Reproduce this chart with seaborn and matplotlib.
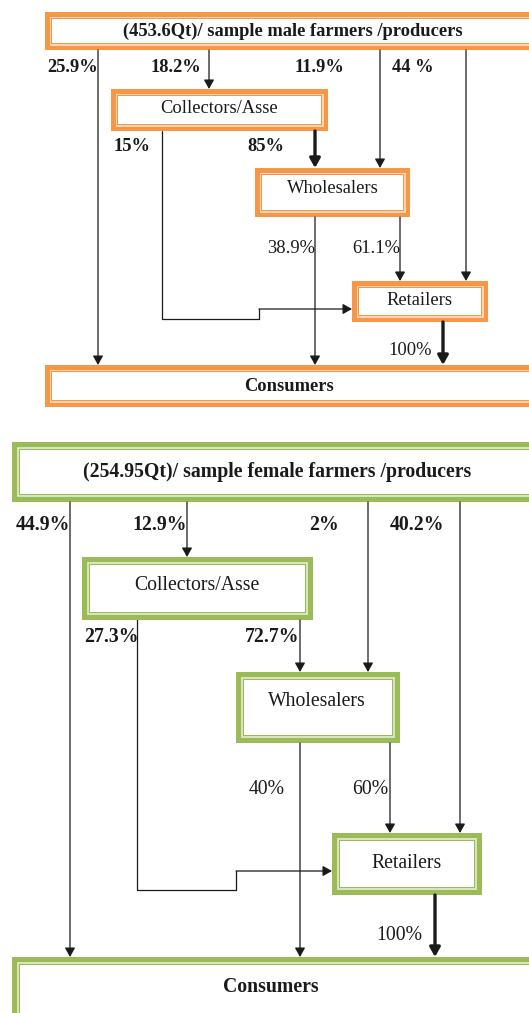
import matplotlib
matplotlib.use("Agg")
import matplotlib.pyplot as plt
from matplotlib.patches import Rectangle
import seaborn as sns

# ---- data: shares of the volume moving along each channel (%) ----
male_total = "453.6Qt"
female_total = "254.95Qt"

male_producer_labels = ["25.9%", "18.2%", "11.9%", "44 %"]     # -> consumers, collectors, wholesalers, retailers
male_collector_labels = ["15%", "85%"]                        # -> retailers, wholesalers
male_wholesaler_labels = ["38.9%", "61.1%"]                   # -> consumers, retailers
male_retailer_labels = ["100%"]                               # -> consumers

female_producer_labels = ["44.9%", "12.9%", "2%", "40.2%"]
female_collector_labels = ["27.3%", "72.7%"]
female_wholesaler_labels = ["40%", "60%"]
female_retailer_labels = ["100%"]

node_names = ["Collectors/Asse", "Wholesalers", "Retailers", "Consumers"]

sns.set_theme(style="white")
plt.rcParams["font.family"] = ["Liberation Serif", "DejaVu Serif"]

INK = "#1a1a1a"


def draw_box(ax, x0, y0, x1, y1, color, light, band, inset):
    ax.add_patch(Rectangle((x0, y0), x1 - x0, y1 - y0, fc=color, ec="none"))
    ax.add_patch(Rectangle((x0 + band, y0 + band), x1 - x0 - 2 * band, y1 - y0 - 2 * band, fc=light, ec="none"))
    ax.add_patch(Rectangle((x0 + inset, y0 + inset), x1 - x0 - 2 * inset, y1 - y0 - 2 * inset, fc=color, ec="none"))
    i2 = inset + 1.2
    ax.add_patch(Rectangle((x0 + i2, y0 + i2), x1 - x0 - 2 * i2, y1 - y0 - 2 * i2, fc="white", ec="none"))


def arrow(ax, x0, y0, x1, y1, thick=False):
    lw = 2.4 if thick else 0.9
    style = "-|>,head_length=0.5,head_width=0.28" if thick else "-|>,head_length=0.5,head_width=0.28"
    ax.annotate("", xy=(x1, y1), xytext=(x0, y0),
                arrowprops=dict(arrowstyle=style, lw=lw, color=INK, shrinkA=0, shrinkB=0,
                                mutation_scale=11 if thick else 11))


def draw_chain(ax, lay, total, gender, prod_lab, coll_lab, whol_lab, ret_lab):
    c, lt = lay["color"], lay["light"]
    band, inset = lay["band"], lay["inset"]
    boxes = lay["boxes"]
    for key in ["producer", "collectors", "wholesalers", "retailers", "consumers"]:
        draw_box(ax, *boxes[key], c, lt, band, inset)

    fs = lay["fs"]
    ax.text(*lay["text_pos"]["producer"], f"({total})/ sample {gender} farmers /producers",
            ha="center", va="center", fontsize=fs, fontweight="bold", color=INK)
    for key, name in zip(["collectors", "wholesalers", "retailers"], node_names[:3]):
        ax.text(*lay["text_pos"][key], name, ha="center", va="center", fontsize=fs, color=INK)
    ax.text(*lay["text_pos"]["consumers"], node_names[3], ha="center", va="center",
            fontsize=fs, fontweight="bold", color=INK)

    p_bot = boxes["producer"][3]
    col = boxes["collectors"]
    whl = boxes["wholesalers"]
    ret = boxes["retailers"]
    con_top = boxes["consumers"][1]
    px = lay["prod_x"]
    # producer outflows
    arrow(ax, px[0], p_bot, px[0], con_top)
    arrow(ax, px[1], p_bot, px[1], col[1])
    arrow(ax, px[2], p_bot, px[2], whl[1])
    arrow(ax, px[3], p_bot, px[3], ret[1])
    # collectors outflows
    cx, jog_x, y_low, y_high = lay["coll_path"]
    ax.plot([cx, cx, jog_x, jog_x], [col[3], y_low, y_low, y_high], color=INK, lw=0.9)
    arrow(ax, jog_x, y_high, ret[0], y_high)
    arrow(ax, lay["coll_whol_x"], col[3], lay["coll_whol_x"], whl[1], thick=lay["thick_cw"])
    # wholesalers outflows
    wx = lay["whol_x"]
    arrow(ax, wx[0], whl[3], wx[0], con_top)
    arrow(ax, wx[1], whl[3], wx[1], ret[1])
    # retailers -> consumers
    arrow(ax, lay["ret_x"], ret[3], lay["ret_x"], con_top, thick=True)

    # percentage labels
    for lab, pos in zip(prod_lab, lay["prod_lab_pos"]):
        ax.text(*pos, lab, ha="center", va="center", fontsize=fs, fontweight="bold", color=INK)
    for lab, pos in zip(coll_lab, lay["coll_lab_pos"]):
        ax.text(*pos, lab, ha="center", va="center", fontsize=fs, fontweight="bold", color=INK)
    for lab, pos in zip(whol_lab, lay["whol_lab_pos"]):
        ax.text(*pos, lab, ha="center", va="center", fontsize=fs, color=INK)
    for lab, pos in zip(ret_lab, lay["ret_lab_pos"]):
        ax.text(*pos, lab, ha="center", va="center", fontsize=fs, color=INK)


male_layout = dict(
    color="#F79646", light="#FCD5B4", band=4.5, inset=6.0,
    boxes=dict(producer=(45, 12, 545, 50), collectors=(111, 89, 328, 131),
               wholesalers=(255, 168, 410, 217), retailers=(352, 281, 488, 322),
               consumers=(45, 365, 545, 407)),
    text_pos=dict(producer=(293, 31), collectors=(219, 108), wholesalers=(333, 188),
                  retailers=(419, 300), consumers=(289, 386)),
    prod_x=[98, 209, 380, 466], coll_path=(162, 259, 319, 309), coll_whol_x=315, thick_cw=True,
    whol_x=[315, 400], ret_x=443,
    prod_lab_pos=[(73, 67), (176, 67), (320, 67), (413, 67)],
    coll_lab_pos=[(132, 146), (266, 146)],
    whol_lab_pos=[(291, 248), (376, 248)],
    ret_lab_pos=[(410, 350)],
    fs=13.3,
)

female_layout = dict(
    color="#9BBB59", light="#D7E4BD", band=5.0, inset=7.0,
    boxes=dict(producer=(12, 442, 545, 502), collectors=(82, 557, 313, 620),
               wholesalers=(236, 672, 400, 743), retailers=(332, 833, 482, 895),
               consumers=(12, 957, 545, 1030)),
    text_pos=dict(producer=(277, 472), collectors=(197, 585), wholesalers=(317, 701),
                  retailers=(407, 863), consumers=(271, 987)),
    prod_x=[70, 187, 368, 460], coll_path=(137, 236, 890, 871), coll_whol_x=300, thick_cw=False,
    whol_x=[300, 390], ret_x=435,
    prod_lab_pos=[(43, 525), (160, 525), (324, 525), (417, 525)],
    coll_lab_pos=[(111, 637), (272, 637)],
    whol_lab_pos=[(267, 789), (370, 789)],
    ret_lab_pos=[(399, 935)],
    fs=14.2,
)

fig = plt.figure(figsize=(5.29, 10.13), dpi=100)
ax = fig.add_axes([0, 0, 1, 1])
ax.set_xlim(0, 529)
ax.set_ylim(1013, 0)
ax.axis("off")

draw_chain(ax, male_layout, male_total, "male", male_producer_labels, male_collector_labels,
           male_wholesaler_labels, male_retailer_labels)
draw_chain(ax, female_layout, female_total, "female", female_producer_labels, female_collector_labels,
           female_wholesaler_labels, female_retailer_labels)

fig.savefig("out.png", dpi=100, facecolor="white")
plt.close(fig)
